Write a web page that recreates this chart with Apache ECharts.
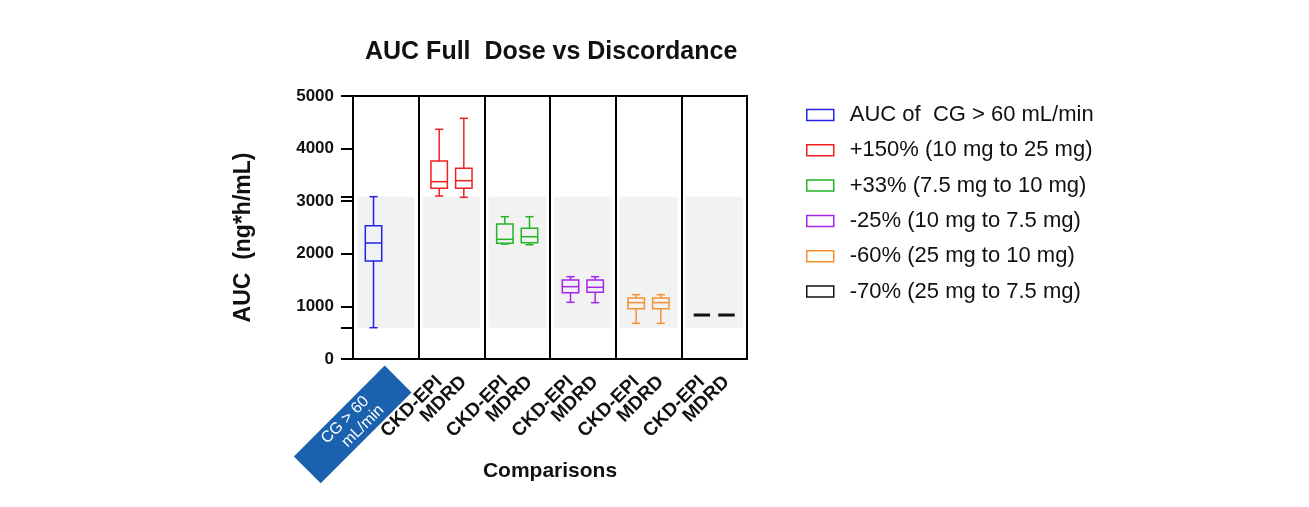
<!DOCTYPE html>
<html>
<head>
<meta charset="utf-8">
<script src="https://cdn.jsdelivr.net/npm/echarts@6/dist/echarts.min.js"></script>
<style>
  html, body { margin: 0; padding: 0; background: #fff; }
  #chart { width: 1309px; height: 507px; }
</style>
</head>
<body>
<div id="chart"></div>
<script>
// AUC full dose vs discordance: one panel per dose-change group, two
// estimating equations per panel. Rows are [min, Q1, median, Q3, max].
const groupNames = [
  "AUC of  CG > 60 mL/min",
  "+150% (10 mg to 25 mg)",
  "+33% (7.5 mg to 10 mg)",
  "-25% (10 mg to 7.5 mg)",
  "-60% (25 mg to 10 mg)",
  "-70% (25 mg to 7.5 mg)",
]
const methodNames = ["CKD-EPI", "MDRD"]
const refLabel = "CG > 60 \nmL/min"

const cgRefStats = [595, 1863, 2205, 2534, 3086]
// groups 1..5
const ckdEpiStats = [
  [3099, 3245, 3371, 3764, 4367],
  [2186, 2199, 2275, 2567, 2706],
  [1078, 1261, 1375, 1502, 1565],
  [678, 957, 1071, 1160, 1223],
  [836, 836, 836, 836, 836],
]
const mdrdStats = [
  [3074, 3245, 3390, 3625, 4576],
  [2173, 2211, 2325, 2484, 2706],
  [1071, 1267, 1363, 1502, 1565],
  [678, 957, 1071, 1160, 1223],
  [836, 836, 836, 836, 836],
]

const yTicks = [0, 1000, 2000, 3000, 4000, 5000]

const COLORS = ["#2323e6", "#f02020", "#22b422", "#a526ec", "#f59132", "#111111"]
const FONT = "Liberation Sans, Arial, sans-serif"

// Each panel is 8 category slots wide; boxes sit on slots 2 and 5.
const SLOTS = 8
const SLOT_A = 2
const SLOT_B = 5

const categories = []
for (let g = 0; g < groupNames.length; g++) {
  for (let s = 0; s < SLOTS; s++) {
    let name = ""
    if (g > 0 && s === SLOT_A) name = methodNames[0]
    if (g > 0 && s === SLOT_B) name = methodNames[1]
    if (g === 0 && s === SLOT_B) {
      categories.push({
        value: refLabel,
        textStyle: {
          backgroundColor: "#1a62ad",
          color: "#fff",
          fontWeight: "normal",
          fontSize: 16,
          lineHeight: 17,
          padding: [2, 32, 2, 32],
        },
      })
      continue
    }
    categories.push(name)
  }
}

const isBoxSlot = (i) => i % SLOTS === SLOT_A || i % SLOTS === SLOT_B
// the empty last slot keeps a blank label so the end labels are not thinned out
const hasLabel = (i) => isBoxSlot(i) || i === categories.length - 1

// data rows: [slot, min, q1, median, q3, max]
const seriesRows = groupNames.map((_, g) => {
  if (g === 0) return [[SLOT_A].concat(cgRefStats)]
  return [
    [g * SLOTS + SLOT_A].concat(ckdEpiStats[g - 1]),
    [g * SLOTS + SLOT_B].concat(mdrdStats[g - 1]),
  ]
})

const renderBox = (params, api) => {
  const x = api.value(0)
  const pt = (k) => api.coord([x, api.value(k)])
  const lo = pt(1), q1 = pt(2), med = pt(3), q3 = pt(4), hi = pt(5)
  const slot = api.size([1, 0])[0]
  const hw = slot * 1.0
  const cw = slot * 0.5
  const cx = lo[0]
  const flat = api.value(1) === api.value(5)
  const style = {
    stroke: api.visual("color"),
    fill: null,
    lineWidth: flat ? 3 : 1.5,
  }
  const line = (x1, y1, x2, y2) => ({type: "line", shape: {x1, y1, x2, y2}, style})
  if (flat) {
    return {type: "group", children: [line(cx - hw, med[1], cx + hw, med[1])]}
  }
  return {
    type: "group",
    children: [
      line(cx, hi[1], cx, q3[1]),
      line(cx, q1[1], cx, lo[1]),
      line(cx - cw, hi[1], cx + cw, hi[1]),
      line(cx - cw, lo[1], cx + cw, lo[1]),
      {type: "rect", shape: {x: cx - hw, y: q3[1], width: hw * 2, height: q1[1] - q3[1]}, style},
      line(cx - hw, med[1], cx + hw, med[1]),
    ],
  }
}

// shaded band spans the reference group's whisker range, inset in each panel
const bandAreas = groupNames.map((_, g) => [
  {xAxis: g * SLOTS, yAxis: cgRefStats[0]},
  {xAxis: g * SLOTS + SLOTS - 1, yAxis: cgRefStats[4]},
])

const series = groupNames.map((name, g) => {
  const s = {
    name,
    type: "custom",
    renderItem: renderBox,
    data: seriesRows[g],
    encode: {x: 0, y: [1, 2, 3, 4, 5]},
    itemStyle: {color: COLORS[g]},
    z: 3,
  }
  if (g === 0) {
    s.markArea = {
      silent: true,
      itemStyle: {color: "#f2f2f2"},
      data: bandAreas,
    }
  }
  return s
})

const chart = echarts.init(document.getElementById("chart"))
chart.setOption({
  animation: false,
  title: {
    text: "AUC Full  Dose vs Discordance",
    left: 360,
    top: 35,
    textStyle: {fontFamily: FONT, fontSize: 25, fontWeight: "bold", color: "#111"},
  },
  legend: {
    orient: "vertical",
    left: 801,
    top: 99,
    itemWidth: 27,
    itemHeight: 11,
    itemGap: 13.3,
    selectedMode: false,
    textStyle: {fontFamily: FONT, fontSize: 22, color: "#111", padding: [0, 0, 0, 11]},
    data: groupNames.map((name, g) => ({
      name,
      icon: "rect",
      itemStyle: {color: "#fff", borderColor: COLORS[g], borderWidth: 1.5},
    })),
  },
  grid: {
    left: 353,
    right: 562,
    top: 96,
    bottom: 148,
    outerBoundsMode: "none",
    show: true,
    borderColor: "#000",
    borderWidth: 2,
    backgroundColor: "transparent",
  },
  xAxis: {
    type: "category",
    data: categories,
    name: "Comparisons",
    nameLocation: "middle",
    nameGap: 102,
    nameMoveOverlap: false,
    nameTextStyle: {fontFamily: FONT, fontSize: 21, fontWeight: "bold", color: "#111"},
    axisLine: {lineStyle: {color: "#000", width: 2}},
    axisTick: {alignWithLabel: true, interval: isBoxSlot, length: 8, lineStyle: {color: "#000", width: 2}},
    axisLabel: {
      interval: (i) => hasLabel(i),
      rotate: 45,
      margin: 20,
      hideOverlap: false,
      fontFamily: FONT,
      fontSize: 19,
      fontWeight: "bold",
      color: "#111",
    },
    splitLine: {show: true, interval: (i) => i % SLOTS === 0, lineStyle: {color: "#000", width: 2}},
  },
  yAxis: {
    type: "value",
    min: yTicks[0],
    max: yTicks[yTicks.length - 1],
    interval: 1000,
    name: "AUC  (ng*h/mL)",
    nameLocation: "middle",
    nameGap: 98,
    nameMoveOverlap: false,
    nameTextStyle: {fontFamily: FONT, fontSize: 23, fontWeight: "bold", color: "#111", padding: [0, 20, 0, 0]},
    axisLine: {show: true, lineStyle: {color: "#000", width: 2}},
    axisTick: {
      show: true,
      length: 12,
      lineStyle: {color: "#000", width: 2},
      customValues: yTicks.concat([cgRefStats[0], cgRefStats[4]]),
    },
    axisLabel: {
      margin: 19,
      fontFamily: FONT,
      fontSize: 17,
      fontWeight: "bold",
      color: "#111",
      formatter: (v) => String(v),
    },
    splitLine: {show: false},
  },
  series,
})
</script>
</body>
</html>
